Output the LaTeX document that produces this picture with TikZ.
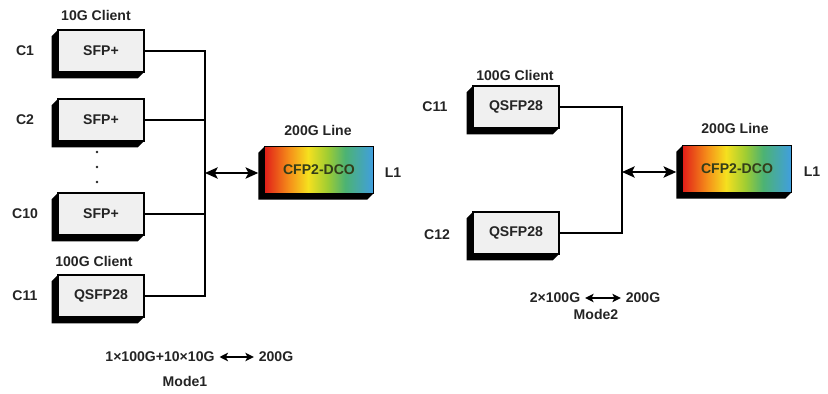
\documentclass[tikz,border=0pt]{standalone}
\usepackage{fontspec}
\setmainfont{Liberation Sans}
\usepackage{xcolor}
\usetikzlibrary{arrows.meta,positioning}

\definecolor{txt}{rgb}{0.14,0.14,0.14}
\definecolor{dcotxt}{rgb}{0.20,0.24,0.10}
% colour band of the line module (inner 25bp..75bp is fitted to the box)
\pgfdeclarehorizontalshading{rainbowline}{100bp}{rgb(0bp)=(0.88,0.12,0.10); rgb(25bp)=(0.88,0.12,0.10); rgb(36bp)=(0.96,0.55,0.10); rgb(45bp)=(0.96,0.88,0.12); rgb(54bp)=(0.62,0.80,0.20); rgb(62bp)=(0.30,0.70,0.45); rgb(75bp)=(0.25,0.62,0.88); rgb(100bp)=(0.25,0.62,0.88)}

\tikzset{
  tag/.style={font=\bfseries, text=txt},
  modbox/.style={draw=black, line width=1pt, fill=gray!12, minimum width=2.15cm,
    minimum height=1.05cm, outer sep=0pt, inner sep=0pt, font=\bfseries, text=txt},
  linebox/.style={draw=black, line width=1pt, shade, shading=rainbowline, minimum width=2.72cm,
    minimum height=1.17cm, outer sep=0pt, inner sep=0pt, font=\bfseries, text=dcotxt},
  wire/.style={line width=1.3pt},
  link/.style={line width=1.3pt, {Stealth[length=9pt,width=8pt,inset=2pt]}-{Stealth[length=9pt,width=8pt,inset=2pt]}},
  linksmall/.style={line width=1.1pt, {Stealth[length=6pt,width=6pt,inset=1.5pt]}-{Stealth[length=6pt,width=6pt,inset=1.5pt]}}
}

% dark extrusion to the lower left of a module
\newcommand{\boxshade}[1]{%
  \fill[black] (#1.north west) -- ++(-4.5pt,-4.5pt)
    -- ([shift={(-4.5pt,-4.5pt)}]#1.south west)
    -- ([shift={(-4.5pt,-4.5pt)}]#1.south east)
    -- (#1.south east) -- (#1.south west) -- cycle;}

\begin{document}
\begin{tikzpicture}[x=0.025cm, y=-0.025cm]
  \useasboundingbox (0,0) rectangle (828,394);

  % Mode 1
  \node[tag] (hd10) at (96,15) {10G Client};
  \node[modbox] (s1) at (101,51) {SFP+};
  \node[modbox] (s2) at (101,120) {SFP+};
  \node[modbox] (s10) at (101,214) {SFP+};
  \node[tag] (hd100) at (94,261) {100G Client};
  \node[modbox] (q11) at (101,296) {QSFP28};
  \foreach \n in {s1,s2,s10,q11} \boxshade{\n};
  \node[tag] (c1) at (25,51) {C1};
  \node[tag] (c2) at (25,120) {C2};
  \node[tag] (c10) at (25,214) {C10};
  \node[tag] (c11) at (25,296) {C11};
  \foreach \y in {152,167,182} \fill[txt] (97,\y) circle (1pt);

  \coordinate (busL) at (205,173);
  \draw[wire] (s1.east) -| (q11.east -| busL) -- (q11.east);
  \draw[wire] (s2.east) -- (s2.east -| busL);
  \draw[wire] (s10.east) -- (s10.east -| busL);

  \node[tag] (hl1) at (318,130) {200G Line};
  \node[linebox] (ln1) at (319,170) {CFP2-DCO};
  \boxshade{ln1}
  \node[tag] (l1a) at (393,173) {L1};
  \coordinate (ln1in) at ([xshift=-4.5pt]ln1.west);
  \draw[link] (busL) -- (busL -| ln1in);

  \node[tag] (r1a) at (160,357) {1×100G+10×10G};
  \node[tag] (r1b) at (276,357) {200G};
  \draw[linksmall] (r1a) -- (r1b);
  \node[tag] (md1) at (185,381) {Mode1};

  % Mode 2
  \node[tag] (hd100b) at (515,75) {100G Client};
  \node[modbox] (q11b) at (516,107) {QSFP28};
  \node[modbox] (q12) at (516,233) {QSFP28};
  \foreach \n in {q11b,q12} \boxshade{\n};
  \node[tag] (c11b) at (435,107) {C11};
  \node[tag] (c12) at (437,235) {C12};

  \coordinate (busR) at (622,172);
  \draw[wire] (q11b.east) -| (q12.east -| busR) -- (q12.east);

  \node[tag] (hl2) at (735,128) {200G Line};
  \node[linebox] (ln2) at (737,169) {CFP2-DCO};
  \boxshade{ln2}
  \node[tag] (l1b) at (812,172) {L1};
  \coordinate (ln2in) at ([xshift=-4.5pt]ln2.west);
  \draw[link] (busR) -- (busR -| ln2in);

  \node[tag] (r2a) at (555,298) {2×100G};
  \node[tag] (r2b) at (643,298) {200G};
  \draw[linksmall] (r2a) -- (r2b);
  \node[tag] (md2) at (596,314) {Mode2};
\end{tikzpicture}
\end{document}
